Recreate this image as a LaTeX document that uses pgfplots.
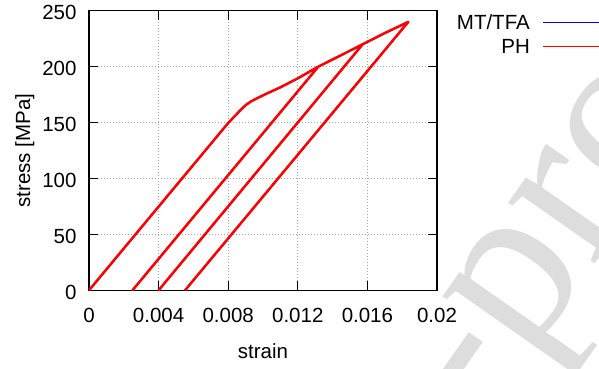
\documentclass[border=0pt]{standalone}
\usepackage{fontspec}
\setmainfont{Liberation Sans}
\newfontfamily\wmfont{Liberation Serif}
\usepackage{pgfplots}
\pgfplotsset{compat=1.18}
\definecolor{wmgray}{RGB}{221,221,221}
\pgfplotstableread{
x y
0 0
0.0080 149.6
0.0087 161
0.0090 165.5
0.0093 168.8
0.0097 172
0.0102 175.8
0.0110 181.5
0.0120 189.5
0.01318 200
0.0025 0
0.01318 200
0.0145 210.3
0.01573 220
0.0040 0
0.01573 220
0.0170 230
0.01835 240
0.00552 0
}\mttfa
\pgfplotstableread{
x y
0 0
0.0080 149.6
0.0087 161
0.0090 165.5
0.0093 168.8
0.0097 172
0.0102 175.8
0.0110 181.5
0.0120 189.5
0.01318 200
0.0025 0
0.01318 200
0.0145 210.3
0.01573 220
0.0040 0
0.01573 220
0.0170 230
0.01835 240
0.00552 0
}\ph
\begin{document}
\begin{tikzpicture}[font=\fontsize{20.5bp}{24bp}\selectfont]
\node[anchor=base east, rotate=55, text=wmgray, font=\wmfont\fontsize{230bp}{230bp}\selectfont, inner sep=0pt] at (437bp,-71.7bp) {Journal Pre-};
\node[anchor=base west, rotate=55, text=wmgray, font=\wmfont\fontsize{230bp}{230bp}\selectfont, inner sep=0pt] at (437bp,-71.7bp) {proof};
\begin{axis}[
  at={(0,0)}, anchor=south west, scale only axis,
  width=348bp, height=279.6bp,
  xmin=0, xmax=0.02, ymin=0, ymax=250,
  xtick={0,0.004,0.008,0.012,0.016,0.02},
  xticklabels={0,0.004,0.008,0.012,0.016,0.02},
  ytick={0,50,100,150,200,250},
  yticklabels={0,50,100,150,200,250},
  scaled x ticks=false,
  tick align=inside, major tick length=9bp,
  tick style={black, line width=0.8bp},
  axis line style={line width=1.3bp},
  grid=major,
  major grid style={gray!70, line width=0.8bp, dash pattern=on 0.9bp off 2.1bp},
  tick label style={font=\fontsize{20.5bp}{24bp}\selectfont},
  label style={font=\fontsize{20.5bp}{24bp}\selectfont},
  xticklabel style={anchor=north, inner sep=0pt, yshift=-18bp},
  yticklabel style={anchor=east, inner sep=0pt, xshift=-12.3bp, yshift=-2bp},
  xlabel={strain}, ylabel={stress [MPa]},
  xlabel style={at={(axis description cs:0.5,-0.2457)}, anchor=base},
  ylabel style={at={(axis description cs:-0.1695,0.5)}, anchor=base, rotate=0},
]
\addplot[blue, line width=1.5bp, line join=round] table[x=x,y=y] {\mttfa};
\addplot[red, line width=2.5bp, line join=round] table[x=x,y=y] {\ph};
\end{axis}
% legend (gnuplot style: text right-aligned, sample line to its right)
\node[anchor=base east, inner sep=0pt] at (441bp,260.3bp) {MT/TFA};
\node[anchor=base east, inner sep=0pt] at (441bp,236.3bp) {PH};
\draw[blue, line width=1.5bp] (454bp,268bp) -- (530bp,268bp);
\draw[red, line width=1.5bp] (454bp,243.6bp) -- (530bp,243.6bp);
\pgfresetboundingbox
\path[use as bounding box] (-89bp,-78.7bp) rectangle (510bp,290.3bp);
\end{tikzpicture}
\end{document}
